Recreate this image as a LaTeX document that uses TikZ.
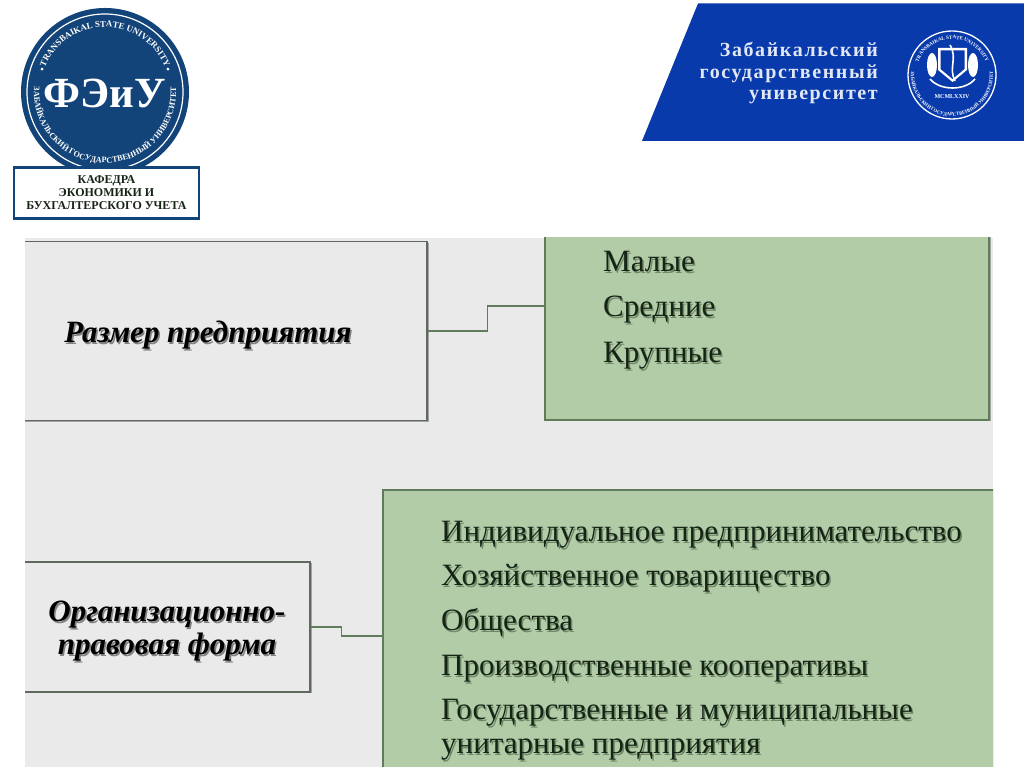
\documentclass[tikz,border=0pt]{standalone}
\usepackage{fontspec}
\setmainfont{Liberation Serif}
\usepackage{tikz}
\usetikzlibrary{positioning, calc, shadows, decorations.text}
\definecolor{mypanel}{RGB}{234,234,235}
\definecolor{mygreen}{RGB}{178,204,168}
\definecolor{myframe}{RGB}{95,105,95}
\definecolor{mygreenline}{RGB}{95,125,90}
\definecolor{mynavy}{RGB}{18,68,122}
\definecolor{myblue}{RGB}{8,58,172}
\definecolor{myink}{RGB}{22,36,22}
\definecolor{myshadow}{RGB}{130,130,130}
\definecolor{mygreenshadow}{RGB}{112,138,104}
\newcommand{\shadowed}[2][myshadow]{\leavevmode\rlap{\kern1.5pt\raisebox{-2pt}{\textcolor{#1}{#2}}}#2}
\tikzset{
  softshadow/.style={drop shadow={shadow xshift=1.5pt, shadow yshift=-1.5pt, fill=black, opacity=0.3}},
  greybox/.style={rectangle, draw=myframe, fill=mypanel, line width=1.5pt, softshadow},
  greenbox/.style={rectangle, draw=mygreenline, fill=mygreen, line width=1.5pt, softshadow},
  link/.style={color=mygreenline, line width=1.2pt},
  itemtext/.style={anchor=base west, inner sep=0pt, text=myink, font=\fontsize{31}{34}\selectfont},
  headtext/.style={align=center, inner sep=0pt, font=\fontsize{31}{33}\selectfont\bfseries\itshape},
  bannertext/.style={anchor=base east, inner sep=0pt, text=white!88!myblue, font=\fontsize{20}{22}\selectfont\bfseries\addfontfeature{LetterSpace=8}}
}
\begin{document}
\begin{tikzpicture}[x=1pt, y=1pt]
  \useasboundingbox (0,0) rectangle (1024,767);
  \fill[white] (0,0) rectangle (1024,767);

  % Panel with the two rows, cut off by its edges
  \fill[mypanel] (25,0) rectangle (993,529);
  \begin{scope}
    \clip (25,0) rectangle (993,529);
    \node[greybox, minimum width=420pt, minimum height=179pt] (sizebox) at (217,436) {};
    \node[greenbox, minimum width=444pt, minimum height=228pt] (sizelist) at (767,461) {};
    \node[greybox, minimum width=305pt, minimum height=130pt] (formbox) at (157.5,140) {};
    \node[greenbox, minimum width=620pt, minimum height=292pt] (formlist) at (693,131) {};
    \draw[link] (sizebox.east) -- ++(60,0) |- (sizelist.west);
    \draw[link] (formbox.east) -- ++(31,0) |- (formlist.west);
  \end{scope}

  % Row labels
  \node[headtext] (sizelabel) at (208,431) {\shadowed{Размер предприятия}};
  \node[headtext] (formlabel) at (167,135) {\shadowed{Организационно-}\\\shadowed{правовая форма}};

  % Items of the lists
  \foreach \i/\y/\t in {1/495/Малые, 2/450/Средние, 3/404.5/Крупные}
    \node[itemtext] (sizeitem\i) at (603,\y) {\shadowed[mygreenshadow]{\t}};
  \foreach \i/\y/\t in {1/225/Индивидуальное предпринимательство, 2/181/Хозяйственное товарищество,
    3/136.5/Общества, 4/91.5/Производственные кооперативы,
    5/47.5/Государственные и муниципальные, 6/13.5/унитарные предприятия}
    \node[itemtext] (formitem\i) at (441,\y) {\shadowed[mygreenshadow]{\t}};

  % Round seal
  \fill[mynavy] (105,675) circle (84);
  \draw[white, line width=1.2pt] (105,675) circle (78);
  \path[decorate, decoration={text along path, text align=center,
      text={|\fontsize{8.8}{10}\selectfont\bfseries\color{white}|TRANSBAIKAL STATE UNIVERSITY}}]
    (105,675) ++(178:65) arc[start angle=178, end angle=2, radius=65];
  \path[decorate, decoration={text along path, text align=center,
      text={|\fontsize{8.2}{10}\selectfont\bfseries\color{white}|ЗАБАЙКАЛЬСКИЙ ГОСУДАРСТВЕННЫЙ УНИВЕРСИТЕТ}}]
    (105,675) ++(145:71) arc[start angle=145, end angle=395, radius=71];
  \fill[white] (105,675) ++(160:67) circle (1.6) (105,675) ++(20:67) circle (1.6);
  \node[text=white, inner sep=0pt, font=\fontsize{43}{46}\selectfont\bfseries] (sealname) at (105,674) {ФЭиУ};

  % Department plate
  \node[rectangle, draw=mynavy, fill=white, line width=2.5pt, minimum width=185pt, minimum height=51pt,
    align=center, inner sep=0pt, font=\fontsize{12}{13}\selectfont\bfseries, text=myink] (plate) at (106.5,574)
    {КАФЕДРА\\ЭКОНОМИКИ И\\БУХГАЛТЕРСКОГО УЧЕТА};

  % Blue banner
  \fill[myblue] (698,763.5) -- (1024,763.5) -- (1024,626) -- (642,626) -- cycle;
  \node[bannertext] (uni1) at (878,710) {Забайкальский};
  \node[bannertext] (uni2) at (878,688) {государственный};
  \node[bannertext] (uni3) at (878,667) {университет};

  % Emblem on the banner
  \draw[white, line width=1.3pt] (952,692) circle (44);
  \path[decorate, decoration={text along path, text align=center,
      text={|\fontsize{5}{6}\selectfont\bfseries\color{white}|TRANSBAIKAL STATE UNIVERSITY}}]
    (952,692) ++(175:36) arc[start angle=175, end angle=5, radius=36];
  \path[decorate, decoration={text along path, text align=center,
      text={|\fontsize{4.8}{5}\selectfont\bfseries\color{white}|ЗАБАЙКАЛЬСКИЙ ГОСУДАРСТВЕННЫЙ УНИВЕРСИТЕТ}}]
    (952,692) ++(145:41) arc[start angle=145, end angle=395, radius=41];
  \fill[white] (938,719) -- (967,719) -- (967,697) -- (952.5,685) -- (938,697) -- cycle;
  \fill[myblue] (940.5,716.5) -- (964.5,716.5) -- (964.5,698) -- (952.5,688) -- (940.5,698) -- cycle;
  \draw[white, line width=1.6pt] (950,722) .. controls (958,708) and (948,700) .. (955,686);
  \fill[white] (932,702) ellipse (5 and 12) (973,702) ellipse (5 and 12);
  \draw[white, line width=1.6pt] (930,688) .. controls (940,676) and (965,676) .. (975,688);
  \node[text=white, inner sep=0pt, font=\fontsize{6}{7}\selectfont\bfseries] (emblemyear) at (952,670) {MCMLXXIV};
\end{tikzpicture}
\end{document}
